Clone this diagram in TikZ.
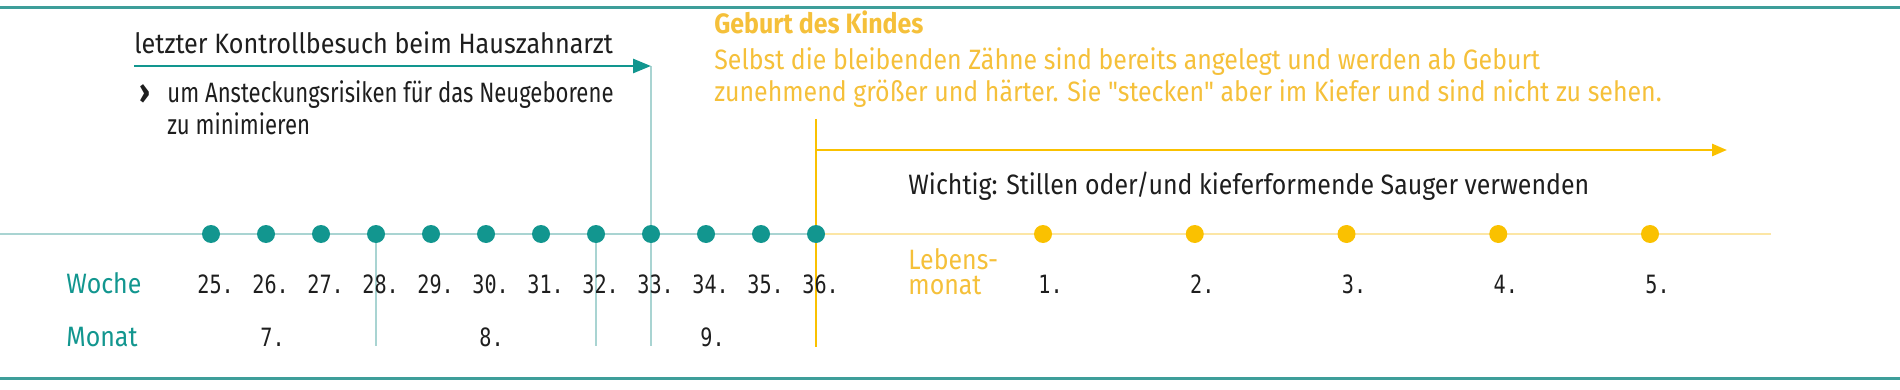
\documentclass[tikz,border=0pt]{standalone}
\usepackage{fontspec}
\newfontfamily\txtfont{Fira Sans}[FakeStretch=0.89]
\newfontfamily\leftfont{Fira Sans}[FakeStretch=0.9]
\newfontfamily\narrowfont{Fira Sans}[FakeStretch=0.79]
\newfontfamily\numfont{DejaVu Sans Mono}[FakeStretch=0.8]
\usetikzlibrary{arrows.meta, positioning, backgrounds}
\definecolor{tealdark}{HTML}{12968F}
\definecolor{teallight}{HTML}{A9D4D2}
\definecolor{tealborder}{HTML}{3E9E9A}
\definecolor{sun}{HTML}{FAC100}
\definecolor{sunlight}{HTML}{FCE6A5}
\definecolor{suntext}{HTML}{F5C03A}
\definecolor{ink}{HTML}{1E1E1E}

\begin{document}
\begin{tikzpicture}[x=0.5pt, y=-0.5pt,
    txt/.style={inner sep=0pt, anchor=base west, text=ink, font=\txtfont\fontsize{14}{17}\selectfont},
    boldtxt/.style={txt, font=\txtfont\fontsize{14}{17}\selectfont\bfseries},
    num/.style={inner sep=0pt, anchor=base west, text=ink, font=\numfont\fontsize{12.6}{15}\selectfont},
    tdot/.style={circle, fill=tealdark, inner sep=0pt, minimum size=9pt},
    ydot/.style={circle, fill=sun, inner sep=0pt, minimum size=9pt},
    tline/.style={draw=teallight, line width=1pt},
    yline/.style={draw=sun, line width=1.4pt}]

  \useasboundingbox (0,0) rectangle (1900,390);

  % Frame
  \draw[line width=1.5pt, tealborder] (0,8) -- (1900,8) (0,378) -- (1900,378);

  % Weeks of pregnancy
  \foreach \w [count=\k from 0] in {25,...,36}
    \node[tdot] (w\w) at ({211+\k*55},234) {};
  % Months of life
  \foreach \m [count=\k from 0] in {1,...,5}
    \node[ydot] (m\m) at ({1043+\k*151.75},234) {};

  \coordinate (start) at (0,234);
  \coordinate (ende) at (1771,234);
  \coordinate (kpfeil) at (651,66);
  \coordinate (gtop) at (816,119);
  \coordinate (yanf) at (816,150);
  \coordinate (yend) at (1727,150);

  \begin{scope}[on background layer]
    \draw[tline] (start) -- (w36.center);
    \draw[draw=sunlight, line width=1pt] (w36.center) -- (ende);
    \foreach \w in {28,32}
      \draw[tline] (w\w.center) -- ++(0,112);
    \draw[tline] (kpfeil) -- (w33.center) -- ++(0,112);
    \draw[yline] (gtop) -- (w36.center) -- ++(0,113);
  \end{scope}

  % Labels
  \foreach \w in {25,...,36}
    \node[num] (l\w) at ([xshift=-7pt, yshift=-29.5pt]w\w.center) {\w.};
  \foreach \m in {1,...,5}
    \node[num] (n\m) at ([xshift=-2.5pt, yshift=-29.5pt]m\m.center) {\m.};
  \node[num] (p7) at (260,346) {7.};
  \node[num] (p8) at (479,346) {8.};
  \node[num] (p9) at (700,346) {9.};

  \node[txt, text=tealdark] (woche) at (66,293) {Woche};
  \node[txt, text=tealdark] (monat) at (66,346) {Monat};
  \node[txt, text=suntext] (lebens) at (908,269) {Lebens-};
  \node[txt, text=suntext] (lmonat) at (908,294) {monat};

  % Last check-up
  \node[txt, font=\leftfont\fontsize{14}{17}\selectfont] (kontrolle) at (134,54) {letzter Kontrollbesuch beim Hauszahnarzt};
  \draw[draw=tealdark, line width=1.4pt, -{Triangle[length=9pt, width=7pt]}]
    ([yshift=-6pt]kontrolle.base west) -- (kpfeil);
  \node[boldtxt, font=\txtfont\fontsize{17}{17}\selectfont\bfseries] (chevron) at (139,104) {›};
  \node[txt, font=\narrowfont\fontsize{14}{17}\selectfont] (grund1) at (167,103) {um Ansteckungsrisiken für das Neugeborene};
  \node[txt, font=\narrowfont\fontsize{14}{17}\selectfont] (grund2) at (167,134) {zu minimieren};

  % Birth
  \node[boldtxt, text=suntext] (geburt) at (714,34) {Geburt des Kindes};
  \node[txt, text=suntext] (geburt1) at (714,70) {Selbst die bleibenden Zähne sind bereits angelegt und werden ab Geburt};
  \node[txt, text=suntext] (geburt2) at (714,102) {zunehmend größer und härter. Sie "stecken" aber im Kiefer und sind nicht zu sehen.};
  \draw[yline, -{Triangle[length=7.5pt, width=6pt]}] (yanf) -- (yend);
  \node[txt] (wichtig) at (908,194) {Wichtig: Stillen oder/und kieferformende Sauger verwenden};
\end{tikzpicture}
\end{document}
